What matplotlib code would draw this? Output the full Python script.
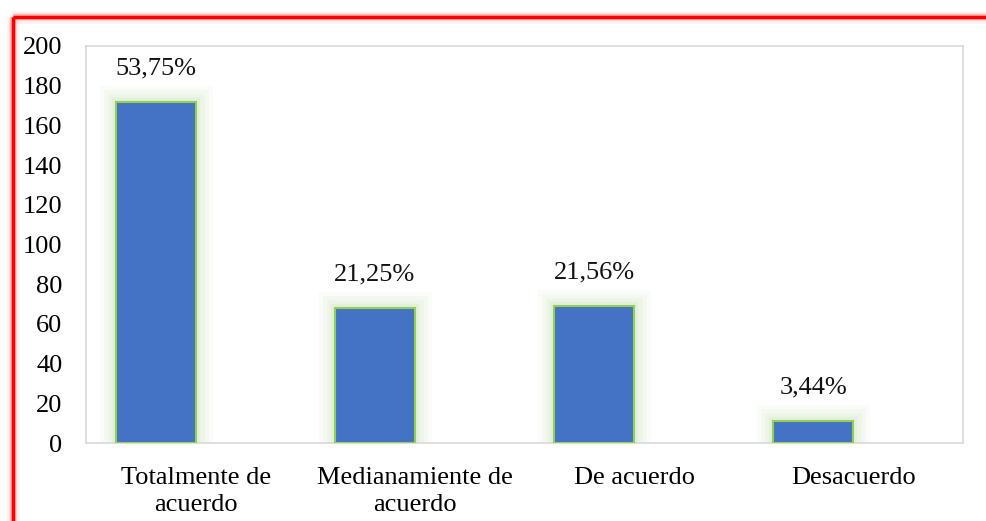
import matplotlib.pyplot as plt
from matplotlib.lines import Line2D
import numpy as np

# datos
categorias = ['Totalmente de\nacuerdo', 'Medianamiente de\nacuerdo', 'De acuerdo', 'Desacuerdo']
valores = [172, 68, 69, 11]
etiquetas = ['53,75%', '21,25%', '21,56%', '3,44%']

plt.rcParams['font.family'] = ['Liberation Serif', 'DejaVu Serif']

W, H = 987, 521
fig = plt.figure(figsize=(W / 100, H / 100), dpi=100)
ax = fig.add_axes([86 / W, 1 - 443 / H, (963 - 86) / W, (443 - 46) / H])

x = np.arange(len(categorias))
ancho = 0.365
pos = x - ancho / 2

# halo verde alrededor de las barras
for lw, a in [(24, 0.05), (18, 0.07), (12, 0.09), (6, 0.12)]:
    ax.bar(pos, valores, width=ancho, color='none', edgecolor='#a9d18e',
           linewidth=lw, alpha=a, zorder=1)
barras = ax.bar(pos, valores, width=ancho, color='#4472C4', edgecolor='#92D050',
                linewidth=1.5, zorder=3)

for b, txt in zip(barras, etiquetas):
    ax.annotate(txt, (b.get_x() + b.get_width() / 2, b.get_height()),
                xytext=(0, 24), textcoords='offset points',
                ha='center', va='center', fontsize=19, color='#111111')

ax.set_xlim(-0.5, len(categorias) - 0.5)
ax.set_ylim(0, 200)
ax.set_yticks(range(0, 201, 20))
ax.set_xticks(x)
ax.set_xticklabels(categorias, fontsize=19, linespacing=1.32)
ax.tick_params(axis='y', length=0, pad=17, labelsize=19)
ax.tick_params(axis='x', length=0, pad=17)
for s in ax.spines.values():
    s.set_color('#d9d9d9')
    s.set_linewidth(1.2)

# borde rojo con brillo
for lw, a in [(9, 0.08), (6, 0.15), (4, 0.35), (2.5, 1.0)]:
    col = '#ff0000' if a == 1.0 else '#ff6060'
    fig.add_artist(Line2D([13 / W, 13 / W], [0, 1 - 17 / H], color=col,
                          linewidth=lw, alpha=a, solid_capstyle='butt'))
    fig.add_artist(Line2D([13 / W, 1], [1 - 17 / H, 1 - 17 / H], color=col,
                          linewidth=lw, alpha=a, solid_capstyle='butt'))

fig.savefig('out.png', dpi=100)
